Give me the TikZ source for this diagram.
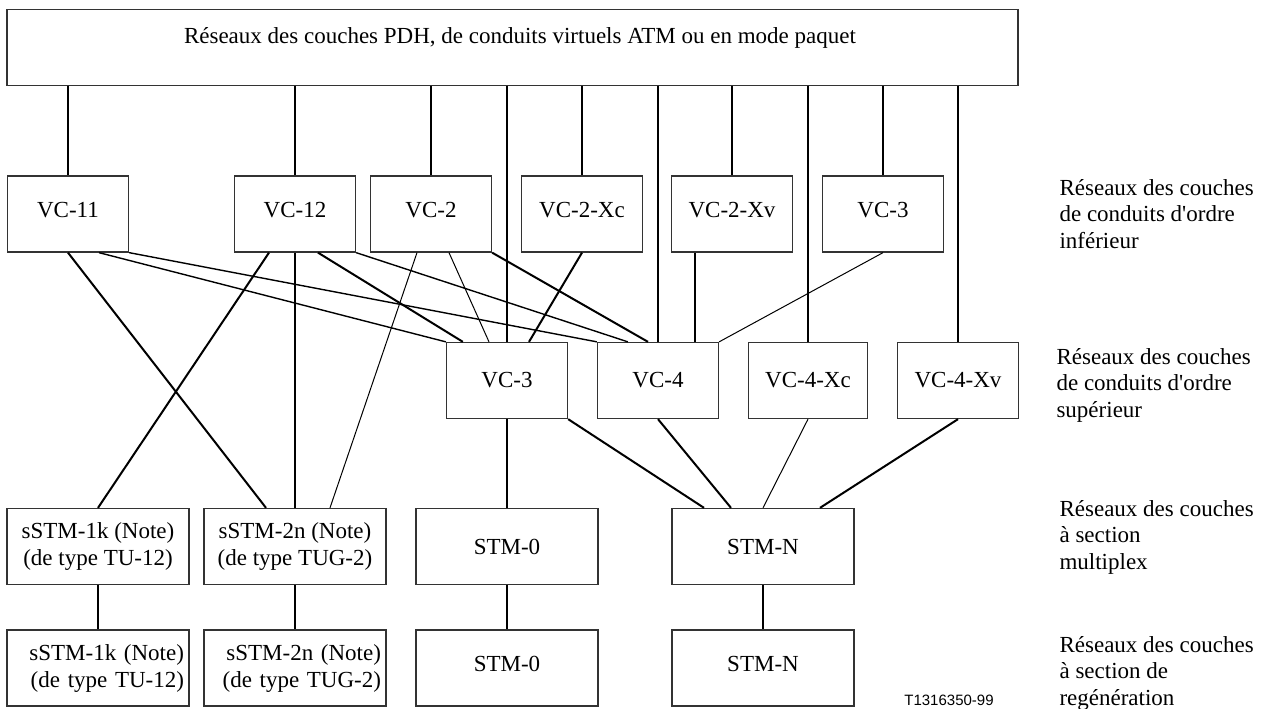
\documentclass[tikz,border=0pt]{standalone}
\usepackage{fontspec}
\setmainfont{Liberation Serif}[Ligatures=TeXOff]
\newfontfamily\codefont{Liberation Sans}
\begin{document}
\begin{tikzpicture}[x=1pt,y=-1pt,
  every node/.style={font=\fontsize{23}{27}\selectfont},
  box/.style={draw=black!80, line width=1.3pt, rectangle, inner sep=0pt,
    minimum width=121pt, minimum height=76pt, align=center},
  wide/.style={box, minimum width=182pt},
  raised/.style={text height=16pt, text depth=10pt},
  heavy/.style={line width=2pt},
  medium/.style={line width=1.4pt},
  light/.style={line width=1pt},
  layer/.style={anchor=west, align=left, font=\fontsize{23}{26.5}\selectfont},
]
\useasboundingbox (0,0) rectangle (1264,709);

% client layer networks
\node[box, minimum width=1011pt,
  label={[xshift=7.5pt, yshift=9pt]center:Réseaux des couches PDH, de conduits virtuels ATM ou en mode paquet}]
  (top) at (512.5,47.3) {};

% lower order paths
\node[box, raised] (vc11)  at (68,214)  {VC-11};
\node[box, raised] (vc12)  at (295,214) {VC-12};
\node[box, raised] (vc2)   at (431,214) {VC-2};
\node[box, raised] (vc2xc) at (582,214) {VC-2-Xc};
\node[box, raised] (vc2xv) at (732,214) {VC-2-Xv};
\node[box, raised] (vc3a)  at (883,214) {VC-3};

% higher order paths
\node[box] (vc3b)  at (507,380.5) {VC-3};
\node[box] (vc4)   at (658,380.5) {VC-4};
\node[box, minimum width=119pt] (vc4xc) at (808,380.5) {VC-4-Xc};
\node[box] (vc4xv) at (958,380.5) {VC-4-Xv};

% multiplex sections
\node[wide] (s1k)  at (98,546.5)  {sSTM-1k (Note)\\(de type TU-12)};
\node[wide] (s2n)  at (295,546.5) {sSTM-2n (Note)\\(de type TUG-2)};
\node[wide] (stm0) at (507,546.5) {STM-0};
\node[wide] (stmn) at (763,546.5) {STM-N};

% regenerator sections
\node[wide, text width=172pt, align=right] (s1kr) at (98,668)  {sSTM-1k (Note)\\(de type TU-12)};
\node[wide, text width=172pt, align=right] (s2nr) at (295,668) {sSTM-2n (Note)\\(de type TUG-2)};
\node[wide, raised] (stm0r) at (507,668) {STM-0};
\node[wide, raised] (stmnr) at (763,668) {STM-N};

% layer names
\node[layer] (l1) at (1056,214) {Réseaux des couches\\de conduits d'ordre\\inférieur};
\node[layer] (l2) at (1053,385) {Réseaux des couches\\de conduits d'ordre\\supérieur};
\node[layer] (l3) at (1056,537) {Réseaux des couches\\à section\\multiplex};
\node[layer] (l4) at (1056,673) {Réseaux des couches\\à section de\\regénération};

\node[font=\codefont\fontsize{15}{18}\selectfont] (code) at (949,700) {T1316350-99};

% client layer to paths
\foreach \n in {vc11,vc12,vc2,vc3b,vc2xc,vc4,vc2xv,vc4xc,vc3a,vc4xv}
  \draw[heavy] (top.south -| \n.north) -- (\n.north);

% lower order to higher order paths
\draw[medium] ([xshift=31pt]vc11.south) -- (vc3b.north west);
\draw[medium] (vc11.south east) -- (vc4.north west);
\draw[heavy]  ([xshift=23pt]vc12.south) -- ([xshift=17pt]vc3b.north west);
\draw[medium] (vc12.south east) -- ([xshift=31pt]vc4.north west);
\draw[light]  ([xshift=18pt]vc2.south) -- ([xshift=-18pt]vc3b.north);
\draw[heavy]  (vc2.south east) -- ([xshift=-10pt]vc4.north);
\draw[heavy]  (vc2xc.south) -- ([xshift=22pt]vc3b.north);
\draw[heavy]  ([xshift=-37pt]vc2xv.south) -- ([xshift=-37pt]vc2xv.south |- vc4.north);
\draw[light]  (vc3a.south) -- (vc4.north east);

% lower order paths to sub-STM sections
\draw[heavy] (vc11.south) -- ([xshift=-29pt]s2n.north);
\draw[heavy] ([xshift=-26pt]vc12.south) -- (s1k.north);
\draw[heavy] (vc12.south) -- (s2n.north);
\draw[light] ([xshift=-14pt]vc2.south) -- ([xshift=35pt]s2n.north);

% higher order paths to multiplex sections
\draw[heavy] (vc3b.south) -- (stm0.north);
\draw[heavy] (vc3b.south east) -- ([xshift=-59pt]stmn.north);
\draw[heavy] (vc4.south) -- ([xshift=-32pt]stmn.north);
\draw[light] (vc4xc.south) -- (stmn.north);
\draw[heavy] (vc4xv.south) -- ([xshift=57pt]stmn.north);

% multiplex to regenerator sections
\draw[heavy] (s1k.south) -- (s1kr.north);
\draw[heavy] (s2n.south) -- (s2nr.north);
\draw[heavy] (stm0.south) -- (stm0r.north);
\draw[heavy] (stmn.south) -- (stmnr.north);
\end{tikzpicture}
\end{document}
